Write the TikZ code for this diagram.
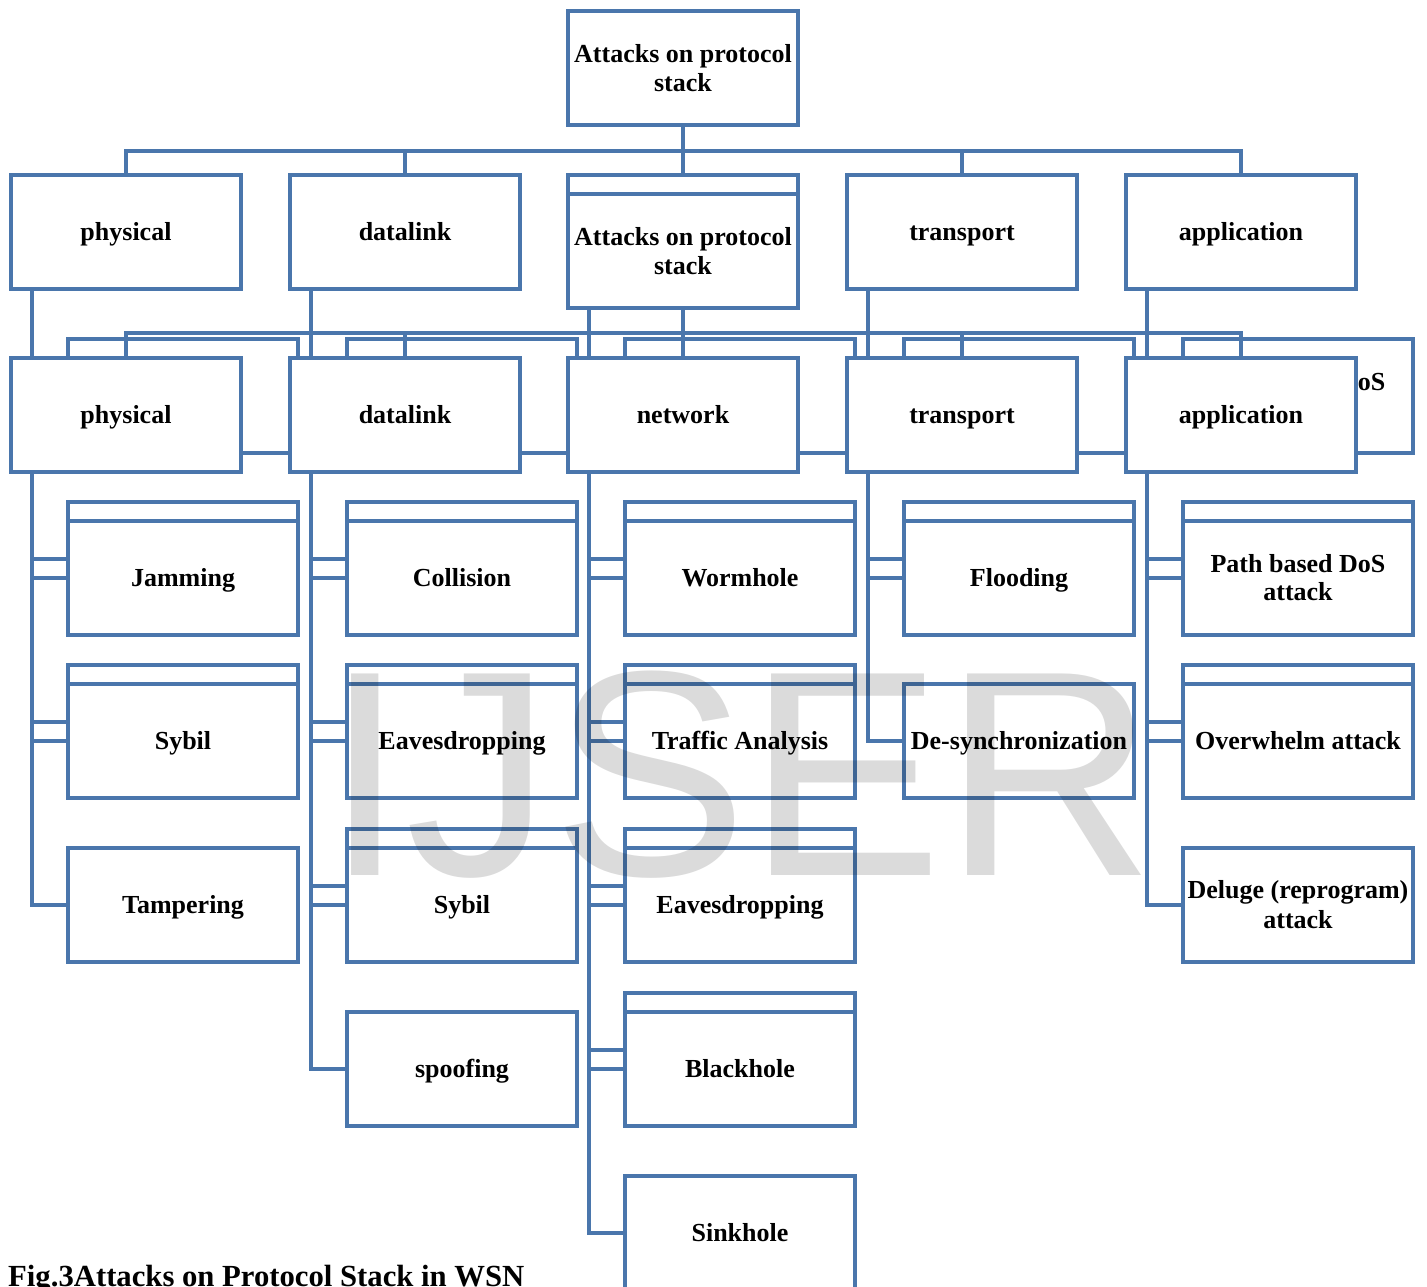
\documentclass[tikz,border=0pt]{standalone}
\usepackage{fontspec}
\setmainfont{Liberation Serif}
\newfontfamily\wmfont{Liberation Sans}
\usetikzlibrary{calc}
\definecolor{bl}{RGB}{74,118,172}
\newcommand\bxs{\rule[-5.4pt]{0pt}{28pt}}
\begin{document}
\begin{tikzpicture}[x=1pt,y=-1pt,
  box/.style={draw=bl,line width=4pt,fill=white,minimum width=230pt,minimum height=114pt,
    inner sep=0pt,align=center,font=\bfseries\fontsize{26}{28}\selectfont},
  ghost/.style={box,fill=none},
  conn/.style={draw=bl,line width=4pt,line join=miter}]
\useasboundingbox (0,0) rectangle (1427,1287);
\clip (0,0) rectangle (1427,1287);
% top and first row
\node[box] (top) at (683,68) {\bxs Attacks on protocol\\\bxs stack};
\node[box] (p1) at (126,232) {\bxs physical};
\node[box] (d1) at (405,232) {\bxs datalink};
\node[box] (c1b) at (683,232) {};
\node[box] (c1) at (683,251) {\bxs Attacks on protocol\\\bxs stack};
\node[box] (t1) at (962,232) {\bxs transport};
\node[box] (a1) at (1241,232) {\bxs application};
\coordinate (bus1) at (683,151);
\foreach \n in {p1,d1,c1b,t1,a1}
  \draw[conn] (top.south) -- (top.south |- bus1) -| (\n.north);
% attack boxes
% physical
\node[box] (jamB) at (183,559) {};
\node[box] (jam) at (183,578) {\bxs Jamming};
\node[box] (syb1B) at (183,722) {};
\node[box] (syb1) at (183,741) {\bxs Sybil};
\node[box] (tamp) at (183,905) {\bxs Tampering};
% datalink
\node[box] (collB) at (462,559) {};
\node[box] (coll) at (462,578) {\bxs Collision};
\node[box] (eav1B) at (462,722) {};
\node[box] (eav1) at (462,741) {\bxs Eavesdropping};
\node[box] (syb2B) at (462,886) {};
\node[box] (syb2) at (462,905) {\bxs Sybil};
\node[box] (spoof) at (462,1069) {\bxs spoofing};
% network
\node[box] (wormB) at (740,559) {};
\node[box] (worm) at (740,578) {\bxs Wormhole};
\node[box] (trafB) at (740,722) {};
\node[box] (traf) at (740,741) {\bxs Traffic Analysis};
\node[box] (eav2B) at (740,886) {};
\node[box] (eav2) at (740,905) {\bxs Eavesdropping};
\node[box] (blackB) at (740,1050) {};
\node[box] (black) at (740,1069) {\bxs Blackhole};
\node[box] (sink) at (740,1233) {\bxs Sinkhole};
% transport
\node[box] (floodB) at (1019,559) {};
\node[box] (flood) at (1019,578) {\bxs Flooding};
\node[box] (desync) at (1019,741) {\bxs De-synchronization};
% application
\node[box] (pathB) at (1298,559) {};
\node[box] (path) at (1298,578) {\bxs Path based DoS\\\bxs attack};
\node[box] (overB) at (1298,722) {};
\node[box] (over) at (1298,741) {\bxs Overwhelm attack};
\node[box] (del) at (1298,905) {\bxs Deluge (reprogram)\\\bxs attack};
% column lines
\coordinate (pc) at ($(p1.south west)+(23,0)$);
\coordinate (dc) at ($(d1.south west)+(23,0)$);
\coordinate (nc) at ($(c1.south west)+(23,0)$);
\coordinate (tc) at ($(t1.south west)+(23,0)$);
\coordinate (ac) at ($(a1.south west)+(23,0)$);
\draw[conn] (pc) |- (tamp.west);
\foreach \n in {jamB,jam,syb1B,syb1} \draw[conn] (pc |- \n.west) -- (\n.west);
\draw[conn] (dc) |- (spoof.west);
\foreach \n in {collB,coll,eav1B,eav1,syb2B,syb2} \draw[conn] (dc |- \n.west) -- (\n.west);
\draw[conn] (nc) |- (sink.west);
\foreach \n in {wormB,worm,trafB,traf,eav2B,eav2,blackB,black} \draw[conn] (nc |- \n.west) -- (\n.west);
\draw[conn] (tc) |- (desync.west);
\foreach \n in {floodB,flood} \draw[conn] (tc |- \n.west) -- (\n.west);
\draw[conn] (ac) |- (del.west);
\foreach \n in {pathB,path,overB,over} \draw[conn] (ac |- \n.west) -- (\n.west);
% shifted copies behind the second row
\node[ghost] (pg) at (183,396) {\bxs Jamming};
\node[ghost] (dg) at (462,396) {\bxs Collision};
\node[ghost] (ng) at (740,396) {\bxs Wormhole};
\node[ghost] (tg) at (1019,396) {\bxs Flooding};
\node[ghost] (ag) at (1298,396) {\bxs Path based DoS\\\bxs attack};
% second row
\node[box] (p2) at (126,415) {\bxs physical};
\node[box] (d2) at (405,415) {\bxs datalink};
\node[box] (n2) at (683,415) {\bxs network};
\node[box] (t2) at (962,415) {\bxs transport};
\node[box] (a2) at (1241,415) {\bxs application};
\coordinate (bus2) at (683,333);
\foreach \n in {p2,d2,n2,t2,a2}
  \draw[conn] (c1.south) -- (c1.south |- bus2) -| (\n.north);
% watermark
\node[anchor=base west,inner sep=0pt,opacity=0.14,font=\wmfont\fontsize{293}{293}\selectfont] (wm) at (324,875) {IJSER};
% caption
\node[anchor=base west,inner sep=0pt,font=\bfseries\fontsize{30.7}{32}\selectfont] (cap) at (8,1286) {Fig.3Attacks on Protocol Stack in WSN};
\end{tikzpicture}
\end{document}
